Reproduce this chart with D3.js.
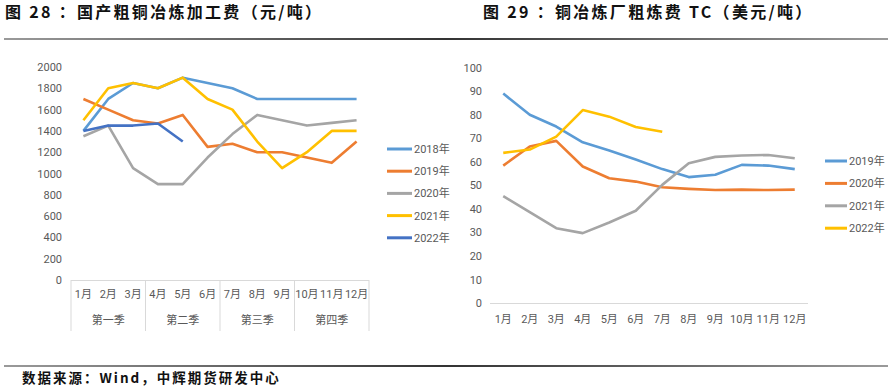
<!DOCTYPE html>
<html>
<head>
<meta charset="utf-8">
<script src="https://cdn.jsdelivr.net/npm/d3@7"></script>
<style>
  body { margin: 0; background: #fff; }
  svg { display: block; }
  .tick-label { font-family: Roboto, "Noto Sans CJK SC", sans-serif; font-size: 11px; fill: #595959; }
  .title { font-family: "Noto Sans CJK SC", sans-serif; font-weight: 700; font-size: 16px; fill: #111; letter-spacing: 2.3px; }
</style>
</head>
<body>
<svg id="chart" width="894" height="389"></svg>
<script>
(function(){
'use strict';

// ---- data: figure 28 (domestic blister copper processing fee, yuan/t)
var months = ['1月','2月','3月','4月','5月','6月','7月','8月','9月','10月','11月','12月'];
var quarters = ['第一季','第二季','第三季','第四季'];
var leftTicks = [0, 200, 400, 600, 800, 1000, 1200, 1400, 1600, 1800, 2000];

var fee2018 = [1400, 1700, 1850, 1800, 1900, 1850, 1800, 1700, 1700, 1700, 1700, 1700];
var fee2019 = [1700, 1600, 1500, 1470, 1550, 1250, 1280, 1200, 1200, 1150, 1100, 1300];
var fee2020 = [1350, 1450, 1050, 900, 900, 1150, 1370, 1550, 1500, 1450, 1475, 1500];
var fee2021 = [1500, 1800, 1850, 1800, 1900, 1700, 1600, 1300, 1050, 1200, 1400, 1400];
var fee2022 = [1400, 1450, 1450, 1470, 1300];

// ---- data: figure 29 (smelter TC, USD/t)
var rightTicks = [0, 10, 20, 30, 40, 50, 60, 70, 80, 90, 100];
var tc2019 = [89, 80, 75, 68.3, 64.8, 61, 56.9, 53.5, 54.5, 58.7, 58.4, 56.9];
var tc2020 = [58.4, 66.5, 68.9, 58, 53, 51.6, 49.2, 48.5, 48, 48.2, 48, 48.2];
var tc2021 = [45.4, 38.6, 31.8, 29.7, 34.2, 39.2, 50.2, 59.4, 62.1, 62.7, 62.9, 61.5];
var tc2022 = [63.8, 65.2, 70.7, 82, 79.2, 74.8, 72.8];

var leftSeries = [
    { name: '2018年', values: fee2018, color: '#5B9BD5' },
    { name: '2019年', values: fee2019, color: '#ED7D31' },
    { name: '2020年', values: fee2020, color: '#A5A5A5' },
    { name: '2021年', values: fee2021, color: '#FFC000' },
    { name: '2022年', values: fee2022, color: '#4472C4' }
];
var rightSeries = [
    { name: '2019年', values: tc2019, color: '#5B9BD5' },
    { name: '2020年', values: tc2020, color: '#ED7D31' },
    { name: '2021年', values: tc2021, color: '#A5A5A5' },
    { name: '2022年', values: tc2022, color: '#FFC000' }
];

var svg = d3.select('#chart');

// ---- titles and rules
svg.append('text').attr('class', 'title').attr('x', 5).attr('y', 18)
    .text('图 28 ：国产粗铜冶炼加工费（元/吨）');
svg.append('text').attr('class', 'title').attr('x', 483).attr('y', 18)
    .text('图 29 ：铜冶炼厂粗炼费 TC（美元/吨）');

var defs = svg.append('defs');
var grad = defs.append('linearGradient').attr('id', 'ruleGrad');
grad.append('stop').attr('offset', '0%').attr('stop-color', '#9a9a9a');
grad.append('stop').attr('offset', '50%').attr('stop-color', '#333');
grad.append('stop').attr('offset', '100%').attr('stop-color', '#9a9a9a');

svg.append('rect').attr('x', 4).attr('y', 38).attr('width', 884).attr('height', 2)
    .attr('fill', 'url(#ruleGrad)');
svg.append('rect').attr('x', 4).attr('y', 365).attr('width', 884).attr('height', 2)
    .attr('fill', 'url(#ruleGrad)');
svg.append('text').attr('x', 22).attr('y', 383)
    .attr('font-family', '"Noto Sans CJK SC", sans-serif')
    .attr('font-weight', 700).attr('font-size', '13.5px').attr('fill', '#111')
    .attr('letter-spacing', '2px')
    .text('数据来源：Wind，中辉期货研发中心');

function drawLines(g, series, x, y){
    var line = d3.line()
        .x(function(d, i){ return x(months[i]) + x.bandwidth() / 2; })
        .y(function(d){ return y(d); });
    g.selectAll('path.series')
        .data(series)
        .enter().append('path')
        .attr('class', 'series')
        .attr('fill', 'none')
        .attr('stroke', function(d){ return d.color; })
        .attr('stroke-width', 2.6)
        .attr('stroke-linejoin', 'round')
        .attr('d', function(d){ return line(d.values); });
}

function drawLegend(g, series, x0, y0, step, len){
    var item = g.selectAll('g.legend')
        .data(series)
        .enter().append('g')
        .attr('class', 'legend')
        .attr('transform', function(d, i){ return 'translate(' + x0 + ',' + (y0 + i * step) + ')'; });
    item.append('line')
        .attr('x1', 0).attr('x2', len).attr('y1', 0).attr('y2', 0)
        .attr('stroke', function(d){ return d.color; })
        .attr('stroke-width', 3);
    item.append('text')
        .attr('class', 'tick-label')
        .attr('x', len + 2).attr('y', 4)
        .text(function(d){ return d.name; });
}

// ---- left chart
var xL = d3.scaleBand().domain(months).range([71, 369]);
var yL = d3.scaleLinear().domain([0, 2000]).range([280, 67]);
var gL = svg.append('g');

gL.append('g').attr('transform', 'translate(62,0)')
    .call(d3.axisLeft(yL).tickValues(leftTicks).tickFormat(d3.format('d')).tickSize(0).tickPadding(0))
    .call(function(a){ a.select('.domain').remove(); })
    .selectAll('text').attr('class', 'tick-label');

// multi-level category axis
var catG = gL.append('g');
catG.append('line').attr('x1', xL.range()[0]).attr('x2', xL.range()[1])
    .attr('y1', 280.5).attr('y2', 280.5).attr('stroke', '#d9d9d9');
catG.selectAll('line.qsep')
    .data(d3.range(quarters.length + 1))
    .enter().append('line')
    .attr('class', 'qsep')
    .attr('x1', function(d){ return d === quarters.length ? xL.range()[1] : xL(months[d * 3]); })
    .attr('x2', function(d){ return d === quarters.length ? xL.range()[1] : xL(months[d * 3]); })
    .attr('y1', 280).attr('y2', 331)
    .attr('stroke', '#d9d9d9');
catG.selectAll('text.month')
    .data(months)
    .enter().append('text')
    .attr('class', 'tick-label')
    .attr('text-anchor', 'middle')
    .attr('x', function(d){ return xL(d) + xL.bandwidth() / 2; })
    .attr('y', 298)
    .text(function(d){ return d; });
catG.selectAll('text.quarter')
    .data(quarters)
    .enter().append('text')
    .attr('class', 'tick-label')
    .attr('text-anchor', 'middle')
    .attr('x', function(d, i){ return (xL(months[i * 3]) + xL(months[i * 3 + 2]) + xL.bandwidth()) / 2; })
    .attr('y', 324)
    .text(function(d){ return d; });

drawLines(gL, leftSeries, xL, yL);
drawLegend(gL, leftSeries, 387, 149, 22.2, 25);

// ---- right chart
var xR = d3.scaleBand().domain(months).range([490, 808]);
var yR = d3.scaleLinear().domain([0, 100]).range([303, 67.7]);
var gR = svg.append('g');

gR.append('g').attr('transform', 'translate(482,0)')
    .call(d3.axisLeft(yR).tickValues(rightTicks).tickSize(0).tickPadding(0))
    .call(function(a){ a.select('.domain').remove(); })
    .selectAll('text').attr('class', 'tick-label');

gR.append('line').attr('x1', xR.range()[0]).attr('x2', xR.range()[1])
    .attr('y1', 303.5).attr('y2', 303.5).attr('stroke', '#d9d9d9');
gR.append('g').attr('transform', 'translate(0,303)')
    .call(d3.axisBottom(xR).tickSize(0).tickPadding(12))
    .call(function(a){ a.select('.domain').remove(); })
    .selectAll('text').attr('class', 'tick-label');

drawLines(gR, rightSeries, xR, yR);
drawLegend(gR, rightSeries, 825, 161, 22.4, 22);

})();
</script>
</body>
</html>
